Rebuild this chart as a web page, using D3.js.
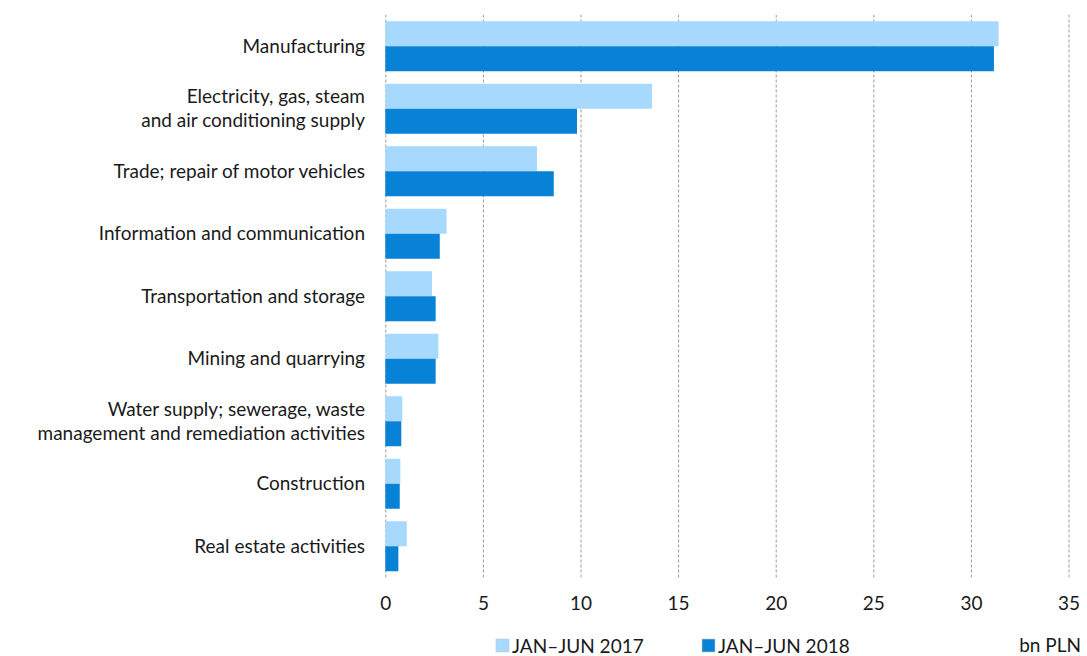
<!DOCTYPE html>
<html>
<head>
<meta charset="utf-8">
<script src="https://cdn.jsdelivr.net/npm/d3@7"></script>
<style>
  html, body { margin: 0; padding: 0; background: #fff; }
  svg { display: block; font-family: Lato, "Noto Sans", sans-serif; }
</style>
</head>
<body>
<svg id="chart" width="1087" height="656"></svg>
<script>
// Sectors, each label split into its display lines
const categories = [
  ["Manufacturing"],
  ["Electricity, gas, steam", "and air conditioning supply"],
  ["Trade; repair of motor vehicles"],
  ["Information and communication"],
  ["Transportation and storage"],
  ["Mining and quarrying"],
  ["Water supply; sewerage, waste", "management and remediation activities"],
  ["Construction"],
  ["Real estate activities"]
];
const seriesNames = ["JAN\u2013JUN 2017", "JAN\u2013JUN 2018"];
const values2017 = [31.42, 13.66, 7.77, 3.14, 2.39, 2.72, 0.87, 0.77, 1.10];
const values2018 = [31.18, 9.82, 8.63, 2.79, 2.58, 2.58, 0.82, 0.74, 0.67];
const xTicks = [0, 5, 10, 15, 20, 25, 30, 35];
const unitLabel = "bn PLN";

const colors = ["#a6d9fd", "#0782d6"];

const svg = d3.select("#chart");
const plotLeft = 385.3, plotRight = 1068.5, plotTop = 15, plotBottom = 577.5;

const x = d3.scaleLinear().domain([0, 35]).range([plotLeft, plotRight]);
const y0 = d3.scaleBand()
  .domain(d3.range(categories.length))
  .range([plotTop, plotBottom])
  .paddingInner(0.2)
  .paddingOuter(0.1);
const y1 = d3.scaleBand().domain([0, 1]).range([0, y0.bandwidth()]);

// dashed vertical gridlines
const grid = svg.append("g").attr("class", "grid")
  .attr("transform", `translate(0,${plotBottom})`)
  .call(d3.axisBottom(x).tickValues(xTicks).tickSize(-(plotBottom - plotTop)).tickFormat(""));
grid.select(".domain").remove();
grid.selectAll(".tick line")
  .attr("stroke", "#9a9a9a")
  .attr("stroke-width", 1)
  .attr("stroke-dasharray", "3,2");

// bars
const rows = categories.map((c, i) => ({ i, vals: [values2017[i], values2018[i]] }));
const groups = svg.append("g").selectAll("g.row")
  .data(rows).join("g")
  .attr("class", "row")
  .attr("transform", d => `translate(0,${y0(d.i)})`);
groups.selectAll("rect")
  .data(d => d.vals.map((v, k) => ({ v, k })))
  .join("rect")
  .attr("x", x(0))
  .attr("y", d => y1(d.k))
  .attr("width", d => x(d.v) - x(0))
  .attr("height", y1.bandwidth())
  .attr("fill", d => colors[d.k]);

// category labels
const labelSize = 19, lineGap = 24;
svg.append("g").selectAll("text")
  .data(rows).join("text")
  .attr("text-anchor", "end")
  .attr("font-size", labelSize)
  .attr("fill", "#1a1a1a")
  .each(function (d) {
    const lines = categories[d.i];
    const cy = y0(d.i) + y0.bandwidth() / 2;
    const startY = cy - (lines.length - 1) * lineGap / 2 + 6.5;
    d3.select(this).selectAll("tspan")
      .data(lines).join("tspan")
      .attr("x", 365)
      .attr("y", (t, j) => startY + j * lineGap)
      .text(t => t);
  });

// tick labels
const axis = svg.append("g")
  .attr("transform", `translate(0,${plotBottom})`)
  .call(d3.axisBottom(x).tickValues(xTicks).tickSize(0).tickPadding(19).tickFormat(d3.format("d")));
axis.select(".domain").remove();
axis.selectAll("text")
  .attr("font-size", 19)
  .attr("font-family", "Lato, sans-serif")
  .attr("fill", "#1a1a1a");

// legend
const legendX = [496, 702];
const legend = svg.append("g").selectAll("g")
  .data(seriesNames).join("g")
  .attr("transform", (d, i) => `translate(${legendX[i]},639)`);
legend.append("rect")
  .attr("width", 13).attr("height", 13)
  .attr("fill", (d, i) => colors[i])
  .attr("stroke", "#c8c8c8").attr("stroke-width", 0.6);
legend.append("text")
  .attr("x", 16).attr("y", 13.5)
  .attr("font-size", 19)
  .attr("fill", "#1a1a1a")
  .text(d => d);

svg.append("text")
  .attr("x", 1081).attr("y", 652)
  .attr("text-anchor", "end")
  .attr("font-size", 19)
  .attr("fill", "#1a1a1a")
  .text(unitLabel);
</script>
</body>
</html>
